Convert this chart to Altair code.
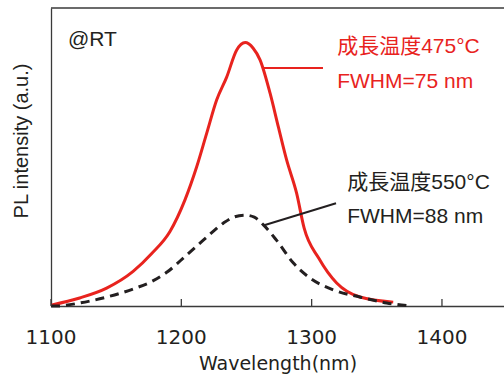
import altair as alt
import pandas as pd

# Red curve (growth temp 475°C)
red_x = [1100, 1122, 1142.7, 1163, 1177.3, 1191.3, 1202.8, 1211.8, 1219.5, 1227.1, 1234.8,
         1242.5, 1249, 1255, 1260.4, 1268.1, 1274.4, 1280.8, 1288.5, 1294.2, 1305.5, 1319.2,
         1337, 1362.6]
red_y = [0.003, 0.027, 0.060, 0.116, 0.176, 0.250, 0.356, 0.467, 0.580, 0.691, 0.768,
         0.859, 0.884, 0.866, 0.826, 0.714, 0.602, 0.490, 0.378, 0.262, 0.160, 0.077,
         0.030, 0.013]
# Black dashed curve (growth temp 550°C)
blk_x = [1100, 1104, 1122, 1142.7, 1163, 1178.5, 1188.8, 1204.1, 1219.5, 1232.2, 1240,
         1249, 1256, 1263, 1273, 1286, 1298.7, 1316.6, 1337, 1357.6, 1375.5]
blk_y = [0.0, 0.0, 0.010, 0.030, 0.057, 0.085, 0.113, 0.171, 0.231, 0.278, 0.298,
         0.305, 0.298, 0.272, 0.221, 0.144, 0.094, 0.054, 0.030, 0.010, 0.0]

x_ticks = [1100, 1200, 1300, 1400]
x_tick_labels = ["1100", "1200", "1300", "1400"]

red_labels = ["成長温度475°C", "FWHM=75 nm"]
blk_labels = ["成長温度550°C", "FWHM=88 nm"]
red_label_x = [1319.6, 1319.6]
red_label_y = [0.870, 0.752]
blk_label_x = [1327.3, 1327.3]
blk_label_y = [0.412, 0.300]
red_leader_x = [1261.9, 1308.7]
red_leader_y = [0.799, 0.799]
blk_leader_x = [1264.2, 1318.7]
blk_leader_y = [0.272, 0.345]
rt_label = ["@RT"]
rt_x = [1113]
rt_y = [0.893]

RED = "#e8231e"
BLK = "#231f20"
FONT = "Liberation Sans, Noto Sans CJK JP, sans-serif"

xs = alt.Scale(domain=[1100, 1447.6], nice=False, zero=False)
ys = alt.Scale(domain=[0, 1], nice=False)

X_AX = alt.Axis(values=x_ticks, ticks=False, grid=False, labels=False,
                titleFont="DejaVu Sans", titleFontSize=19, titleFontWeight="normal",
                titleColor=BLK, titleBaseline="alphabetic", titleY=63,
                domainColor="#3a3a3a", domainWidth=1.3)
Y_AX = alt.Axis(labels=False, ticks=False, grid=False,
                titleFont="Liberation Sans", titleFontSize=20, titleFontWeight="normal",
                titleColor=BLK, titleAngle=270, titleBaseline="middle",
                titleAlign="center", titleX=-30, titleY=132.5,
                domainColor="#3a3a3a", domainWidth=1.3)


def X():
    return alt.X("x:Q", scale=xs, axis=X_AX, title="Wavelength(nm)")


def Y():
    return alt.Y("y:Q", scale=ys, axis=Y_AX, title="PL intensity (a.u.)")


red_df = pd.DataFrame({"x": red_x, "y": red_y})
blk_df = pd.DataFrame({"x": blk_x, "y": blk_y})

red_line = alt.Chart(red_df).mark_line(color=RED, strokeWidth=3, interpolate="monotone").encode(
    x=X(), y=Y())
blk_line = alt.Chart(blk_df).mark_line(color=BLK, strokeWidth=3, strokeDash=[9, 6],
                                       interpolate="monotone").encode(x=X(), y=Y())

tick_df = pd.DataFrame({"x": x_ticks, "t": x_tick_labels})
ticks = alt.Chart(tick_df).mark_rule(color="#3a3a3a", strokeWidth=1.3).encode(
    x=X(), y=alt.value(291), y2=alt.value(298))
tick_text = alt.Chart(tick_df).mark_text(
    color=BLK, font="DejaVu Sans", fontSize=20, align="center", baseline="middle").encode(
    x=X(), y=alt.value(330), text="t:N")

top_frame = alt.Chart(pd.DataFrame({"a": [0]})).mark_rule(color="#3a3a3a", strokeWidth=1.3).encode(
    x=alt.value(0), x2=alt.value(460), y=alt.value(0))

red_lead = alt.Chart(pd.DataFrame({"x": red_leader_x, "y": red_leader_y})).mark_line(
    color=RED, strokeWidth=2).encode(x=X(), y=Y())
blk_lead = alt.Chart(pd.DataFrame({"x": blk_leader_x, "y": blk_leader_y})).mark_line(
    color=BLK, strokeWidth=2).encode(x=X(), y=Y())

red_text = alt.Chart(pd.DataFrame({"x": red_label_x, "y": red_label_y, "t": red_labels})).mark_text(
    color=RED, font=FONT, fontSize=21, align="left", baseline="middle").encode(
    x=X(), y=Y(), text="t:N")
blk_text = alt.Chart(pd.DataFrame({"x": blk_label_x, "y": blk_label_y, "t": blk_labels})).mark_text(
    color=BLK, font=FONT, fontSize=21, align="left", baseline="middle").encode(
    x=X(), y=Y(), text="t:N")
rt_text = alt.Chart(pd.DataFrame({"x": rt_x, "y": rt_y, "t": rt_label})).mark_text(
    color=BLK, font=FONT, fontSize=21, align="left", baseline="middle").encode(
    x=X(), y=Y(), text="t:N")

chart = alt.layer(red_line, blk_line, ticks, tick_text, top_frame, red_lead, blk_lead,
                  red_text, blk_text, rt_text).properties(
    width=453, height=298,
    autosize=alt.AutoSizeParams(type="none"),
    padding={"left": 51, "top": 8, "right": 0, "bottom": 68},
    background="white",
).configure_view(stroke=None, clip=False)

chart.save("out.html", embed_options={"renderer": "svg", "actions": False})
